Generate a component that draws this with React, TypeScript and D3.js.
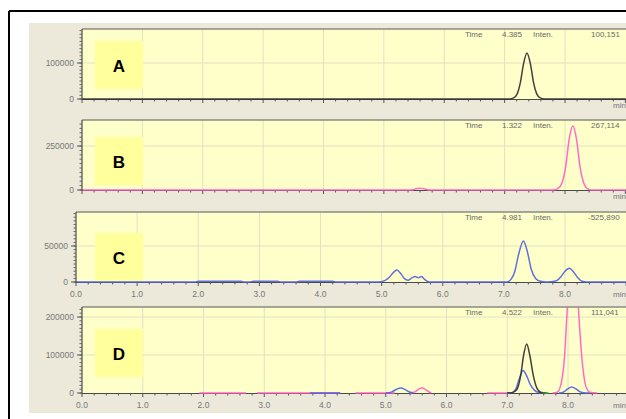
import React from "react";
import * as d3 from "d3";

type Pt = [number, number | null];

// ---- data ----
const panelLetters = ["A", "B", "C", "D"];
const headerTimes = ["4.385", "1.322", "4.981", "4.522"];
const headerIntens = ["100,151", "267,114", "-525,890", "111,041"];
const xTickValues = [0, 1, 2, 3, 4, 5, 6, 7, 8];
const xTickLabels = ["0.0", "1.0", "2.0", "3.0", "4.0", "5.0", "6.0", "7.0", "8.0"];

const yTicksA = [0, 100000];
const yTicksB = [0, 250000];
const yTicksC = [0, 50000];
const yTicksD = [0, 100000, 200000];

// A: black trace
const traceA: Pt[] = [
  [0, 0], [7.08, 0], [7.15, 3000], [7.21, 15000], [7.26, 45000], [7.31, 95000],
  [7.37, 128000], [7.43, 95000], [7.48, 45000], [7.53, 15000], [7.59, 3000],
  [7.66, 0], [9.6, 0],
];

// B: pink trace
const traceB: Pt[] = [
  [0, 0], [5.45, 0], [5.52, 6000], [5.6, 10000], [5.68, 6000], [5.76, 0],
  [7.8, 0], [7.88, 8000], [7.95, 40000], [8.01, 130000], [8.07, 290000],
  [8.13, 364000], [8.19, 290000], [8.25, 130000], [8.31, 40000], [8.37, 8000],
  [8.44, 0], [9.6, 0],
];

// C: blue trace
const traceC: Pt[] = [
  [0, 0], [1.95, 0], [2.0, 1200], [2.7, 1200], [2.75, 0], [2.85, 0], [2.9, 1200],
  [3.3, 1200], [3.35, 0], [3.6, 0], [3.65, 1200], [4.2, 1200], [4.25, 0],
  [4.95, 0], [5.05, 2000], [5.13, 7000], [5.19, 13000], [5.25, 16500],
  [5.31, 12000], [5.37, 5000], [5.43, 2500], [5.5, 6000], [5.55, 7500],
  [5.6, 6000], [5.65, 7800], [5.71, 3000], [5.78, 0], [7.05, 0], [7.12, 4000],
  [7.18, 15000], [7.24, 38000], [7.32, 57000], [7.39, 40000], [7.45, 17000],
  [7.52, 5000], [7.6, 1000], [7.7, 0], [7.85, 1500], [7.93, 7000], [8.0, 15000],
  [8.07, 19000], [8.14, 14000], [8.21, 6000], [8.28, 1000], [8.35, 0], [9.6, 0],
];

// D: overlay of the traces (gaps where nothing is drawn)
const traceDPink: Pt[] = [
  [1.93, 0], [2.7, 0], [2.71, null], [2.88, 0], [3.75, 0], [4.25, 0], [4.26, null],
  [4.5, 0], [5.15, 0], [5.16, null], [5.4, 0], [5.48, 3000], [5.55, 11000],
  [5.6, 13000], [5.66, 9000], [5.72, 2000], [5.75, 0], [5.76, null],
  [6.67, 0], [7.05, 0], [7.06, null], [7.75, 0], [7.82, 2000], [7.88, 20000],
  [7.94, 90000], [7.98, 200000], [8.03, 340000], [8.08, 400000], [8.13, 340000],
  [8.18, 200000], [8.23, 90000], [8.29, 20000], [8.36, 2000], [8.48, 0],
];
const traceDBlue: Pt[] = [
  [3.75, 0], [4.25, 0], [4.26, null], [5.0, 0], [5.1, 3000], [5.18, 10000],
  [5.25, 13000], [5.32, 9000], [5.4, 2000], [5.45, 0], [5.46, null],
  [7.0, 0], [7.08, 1000], [7.14, 10000], [7.2, 38000], [7.26, 59000],
  [7.32, 45000], [7.38, 22000], [7.45, 7000], [7.52, 1500], [7.65, 0],
  [7.66, null], [7.85, 0], [7.92, 2000], [7.99, 10000], [8.06, 16000],
  [8.13, 11000], [8.2, 3000], [8.3, 0], [8.35, 0],
];
const traceDBlack: Pt[] = [
  [7.0, 0], [7.08, 1000], [7.16, 10000], [7.22, 45000], [7.27, 100000],
  [7.32, 129000], [7.37, 100000], [7.43, 45000], [7.49, 12000], [7.55, 2000],
  [7.63, 0],
];
const traceDGreen: Pt[] = [[7.58, 0], [7.68, 0]];

const BLACK = "#2d2d2d";
const PINK = "#ff5cc8";
const BLUE = "#4f5fe2";
const GREEN = "#2a9a2a";

// ---- layout ----
const panels = [
  { x0: 82, x8: 565, top: 29, zero: 99, tickY: 63, tickV: 100000, minor: 10000,
    yTicks: yTicksA, xLabels: false, traces: [{ c: BLACK, d: traceA }] },
  { x0: 82, x8: 565, top: 120, zero: 190, tickY: 146, tickV: 250000, minor: 25000,
    yTicks: yTicksB, xLabels: false, traces: [{ c: PINK, d: traceB }] },
  { x0: 76, x8: 565, top: 212, zero: 282, tickY: 246, tickV: 50000, minor: 5000,
    yTicks: yTicksC, xLabels: true, traces: [{ c: BLUE, d: traceC }] },
  { x0: 82, x8: 568, top: 307, zero: 393, tickY: 317, tickV: 200000, minor: 10000,
    yTicks: yTicksD, xLabels: true,
    traces: [
      { c: PINK, d: traceDPink },
      { c: BLUE, d: traceDBlue },
      { c: BLACK, d: traceDBlack },
      { c: GREEN, d: traceDGreen },
    ] },
];

const boxTops = [41, 137, 233, 329];
const FONT = "'Liberation Sans', Arial, sans-serif";
const RIGHT = 640;

export default function App() {
  return (
    <svg width={626} height={419} style={{ position: "absolute", left: 0, top: 0 }}
      fontFamily={FONT}>
      <rect x={0} y={0} width={626} height={419} fill="#ffffff" />
      <rect x={29} y={23} width={600} height={390} fill="#ece9da" />
      <line x1={9} y1={11} x2={626} y2={11} stroke="#000" strokeWidth={2} />
      <line x1={9} y1={11} x2={9} y2={419} stroke="#000" strokeWidth={2} />
      {panels.map((p, i) => {
        const x = d3.scaleLinear().domain([0, 8]).range([p.x0, p.x8]);
        const y = d3.scaleLinear().domain([0, p.tickV]).range([p.zero, p.tickY]);
        const yTop = y.invert(p.top);
        const xEnd = x.invert(RIGHT);
        const line = d3.line<Pt>()
          .defined(d => d[1] !== null)
          .x(d => x(d[0]))
          .y(d => y(d[1] as number))
          .curve(d3.curveMonotoneX);
        const minorX = d3.range(0, xEnd, 0.2);
        const minorY = d3.range(0, yTop, p.minor);
        const clipId = `clip${i}`;
        const labelY = p.zero + 12;
        return (
          <g key={i}>
            <defs>
              <clipPath id={clipId}>
                <rect x={p.x0} y={p.top} width={RIGHT - p.x0} height={p.zero - p.top + 2} />
              </clipPath>
            </defs>
            <rect x={p.x0} y={p.top} width={RIGHT - p.x0} height={p.zero - p.top} fill="#ffffc9" />
            {xTickValues.slice(1).map(v => (
              <line key={v} x1={x(v)} x2={x(v)} y1={p.top} y2={p.zero} stroke="#e2e1c2" strokeWidth={1} />
            ))}
            {p.yTicks.slice(1).map(v => (
              <line key={v} x1={p.x0} x2={RIGHT} y1={y(v)} y2={y(v)} stroke="#e2e1c2" strokeWidth={1} />
            ))}
            <line x1={p.x0} x2={RIGHT} y1={p.top} y2={p.top} stroke="#8a8a80" strokeWidth={1.5} />
            <rect x={95} y={boxTops[i]} width={48} height={48} fill="#ffff9c" />
            <text x={119} y={boxTops[i] + 31} textAnchor="middle" fontSize={17}
              fontWeight="bold" fill="#000">{panelLetters[i]}</text>
            {/* x axis */}
            <line x1={p.x0} x2={RIGHT} y1={p.zero + 0.5} y2={p.zero + 0.5} stroke="#4a4a4a" strokeWidth={1.2} />
            {minorX.map((v, k) => (
              <line key={k} x1={x(v)} x2={x(v)} y1={p.zero} y2={p.zero + (k % 5 === 0 ? 4 : 2.5)}
                stroke="#555" strokeWidth={1} />
            ))}
            {/* traces over the axis line */}
            <g clipPath={`url(#${clipId})`}>
              {p.traces.map((t, k) => (
                <path key={k} d={line(t.d) || ""} fill="none" stroke={t.c} strokeWidth={1.5}
                  strokeOpacity={0.9} />
              ))}
            </g>
            {/* y axis */}
            <line x1={p.x0} x2={p.x0} y1={p.top} y2={p.zero + 1} stroke="#4a4a4a" strokeWidth={1.2} />
            {minorY.map((v, k) => (
              <line key={k} x1={p.x0 - 2.5} x2={p.x0} y1={y(v)} y2={y(v)} stroke="#666" strokeWidth={1} />
            ))}
            {p.yTicks.map(v => (
              <g key={v}>
                <line x1={p.x0 - 5} x2={p.x0} y1={y(v)} y2={y(v)} stroke="#555" strokeWidth={1} />
                <text x={p.x0 - 8} y={y(v) + 3} textAnchor="end" fontSize={8.5} fill="#777">{String(v)}</text>
              </g>
            ))}
            {p.xLabels && xTickValues.map((v, k) => (
              <text key={v} x={x(v)} y={labelY + 3} textAnchor="middle" fontSize={8.5} fill="#777">
                {xTickLabels[k]}
              </text>
            ))}
            <text x={613} y={p.xLabels ? labelY + 3 : p.zero + 9} fontSize={8} fill="#777">min</text>
            {/* header */}
            <g fontSize={8} fill="#6a6a6a">
              <text x={465} y={p.top + 8}>Time</text>
              <text x={502} y={p.top + 8}>{headerTimes[i]}</text>
              <text x={533} y={p.top + 8}>Inten.</text>
              <text x={headerIntens[i].startsWith("-") ? 588 : 591} y={p.top + 8}>{headerIntens[i]}</text>
            </g>
          </g>
        );
      })}
    </svg>
  );
}
